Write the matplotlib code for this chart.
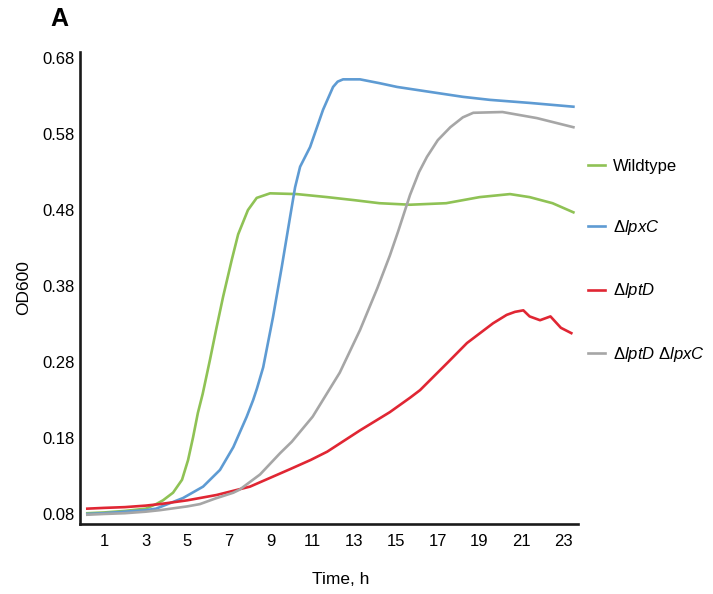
import numpy as np
import matplotlib
matplotlib.use('Agg')
import matplotlib.pyplot as plt

plt.rcParams['font.family'] = ['Liberation Sans', 'DejaVu Sans']
plt.rcParams['mathtext.fontset'] = 'custom'
plt.rcParams['mathtext.rm'] = 'Liberation Sans'
plt.rcParams['mathtext.it'] = 'Liberation Sans:italic'

# 读图得到的数据点 (时间 h, OD600)
wt_t = [0.2, 1, 2, 3, 3.5, 3.83, 4.31, 4.74, 5.03, 5.27, 5.5, 5.73, 6.08, 6.4, 6.71, 7.12,
        7.43, 7.9, 8.32, 8.96, 10.24, 11.7, 13.0, 14.2, 15.67, 17.4, 19.0, 20.46, 21.4,
        22.5, 23.5]
wt_od = [0.081, 0.082, 0.084, 0.087, 0.093, 0.098, 0.108, 0.125, 0.151, 0.181, 0.213,
         0.238, 0.283, 0.326, 0.366, 0.414, 0.448, 0.480, 0.496, 0.502, 0.501, 0.497,
         0.493, 0.489, 0.487, 0.489, 0.497, 0.501, 0.497, 0.489, 0.477]

lpxc_t = [0.2, 1, 2, 3, 3.5, 4.79, 5.75, 6.56, 7.2, 7.84, 8.15, 8.33, 8.63, 9.1, 9.52,
          9.92, 10.16, 10.4, 10.88, 11.5, 11.98, 12.2, 12.46, 13.27, 14.2, 15.05, 16.5,
          18.2, 19.5, 21.4, 23.5]
lpxc_od = [0.080, 0.081, 0.083, 0.085, 0.087, 0.101, 0.116, 0.138, 0.168, 0.208, 0.230,
           0.245, 0.273, 0.339, 0.405, 0.471, 0.510, 0.537, 0.563, 0.612, 0.642, 0.649,
           0.652, 0.652, 0.647, 0.642, 0.636, 0.629, 0.625, 0.621, 0.616]

lptd_t = [0.2, 1, 2, 3, 3.68, 5.0, 6.4, 8.0, 9.92, 10.9, 11.7, 13.27, 14.7, 15.67, 16.15,
          16.77, 17.5, 18.4, 19.65, 20.3, 20.7, 21.1, 21.4, 21.9, 22.4, 22.9, 23.4]
lptd_od = [0.087, 0.088, 0.089, 0.091, 0.093, 0.098, 0.105, 0.116, 0.139, 0.151, 0.162,
           0.190, 0.214, 0.233, 0.243, 0.260, 0.280, 0.305, 0.331, 0.342, 0.346, 0.348,
           0.340, 0.335, 0.340, 0.325, 0.318]

dbl_t = [0.2, 1, 2, 3, 3.68, 5.0, 5.6, 6.3, 7.2, 7.5, 8.48, 9.44, 10.0, 11.0, 12.3, 13.27,
         14.1, 14.7, 15.1, 15.67, 16.1, 16.48, 17.0, 17.6, 18.2, 18.7, 20.1, 21.75, 23.5]
dbl_od = [0.079, 0.080, 0.081, 0.083, 0.085, 0.090, 0.093, 0.100, 0.108, 0.112, 0.132,
          0.160, 0.175, 0.208, 0.266, 0.322, 0.377, 0.420, 0.452, 0.500, 0.530, 0.550,
          0.572, 0.589, 0.602, 0.608, 0.609, 0.601, 0.589]

labels = ['Wildtype', r'$\Delta\mathit{lpxC}$', r'$\Delta\mathit{lptD}$',
          r'$\Delta\mathit{lptD}\ \Delta\mathit{lpxC}$']
colors = ['#8fc255', '#5e9bd3', '#e02633', '#a6a6a6']
xticks = list(range(1, 24, 2))
yticks = [0.08, 0.18, 0.28, 0.38, 0.48, 0.58, 0.68]

fig = plt.figure(figsize=(7.13, 5.94), dpi=100)
ax = fig.add_axes([80 / 713, 1 - 524 / 594, 498 / 713, 472 / 594])

series = [(wt_t, wt_od), (lpxc_t, lpxc_od), (lptd_t, lptd_od), (dbl_t, dbl_od)]
for (t, od), lab, c in zip(series, labels, colors):
    ax.plot(t, od, color=c, lw=1.9, label=lab, solid_joinstyle='round')

ax.set_xlim(-0.15, 23.72)
ax.set_ylim(0.0668, 0.688)
ax.set_xticks(xticks)
ax.set_yticks(yticks)
ax.set_yticklabels(['%.2f' % v for v in yticks])
ax.tick_params(length=0, labelsize=12)
ax.tick_params(axis='y', pad=4)
ax.tick_params(axis='x', pad=7)
for s in ['top', 'right']:
    ax.spines[s].set_visible(False)
for s in ['left', 'bottom']:
    ax.spines[s].set_linewidth(1.9)
    ax.spines[s].set_color('#1a1a1a')

ax.set_xlabel('Time, h', fontsize=12.5)
ax.xaxis.set_label_coords(0.524, -0.102)
ax.set_ylabel('OD600', fontsize=12.5, labelpad=8)

fig.text(50 / 713, 1 - 19 / 594, 'A', fontsize=18, fontweight='bold', va='center')

fig.legend(loc='upper left', bbox_to_anchor=(588 / 713, 1 - 159 / 594), frameon=False,
           fontsize=12, labelspacing=2.65, handlelength=1.0, handletextpad=0.5,
           borderpad=0, borderaxespad=0)

fig.savefig('out.png', dpi=100)
